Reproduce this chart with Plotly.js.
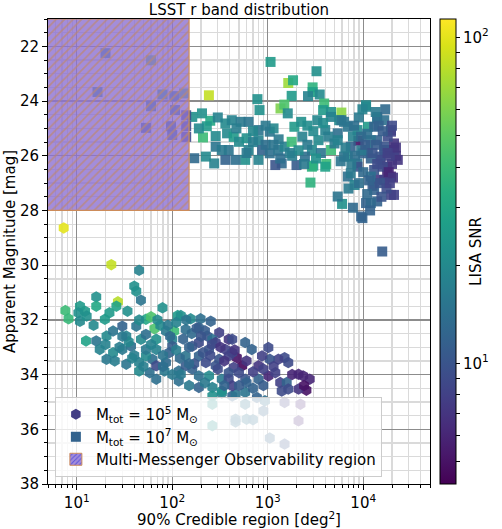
<!DOCTYPE html>
<html><head><meta charset="utf-8">
<script src="https://cdn.plot.ly/plotly-3.0.1.min.js"></script>
<style>html,body{margin:0;padding:0;background:#fff}</style>
</head><body><div id="chart" style="width:502px;height:529px"></div>
<script>
// M_tot = 1e7 (squares): credible region [deg^2], magnitude, LISA SNR
const sqX = [1070,3240,242,1640,1840,2950,2950,3500,2640,1780,780,820,1360,1490,3900,3800,4600,5900,5600,10700,14000,8900,19500,23000,19500,14000,13000,19500,10700,14000,6000,9800,2800,3000,4100,15800,
162,205,250,230,210,360,420,520,630,285,285,375,440,500,390,600,630,800,800,870,1050,1050,1290,1500,1780,1900,2240,1400,1200,800,580,460,360,275,225,170,330,2900,2450,2000,2900,4000,4600,3400,4000,4600,5900,5400,5000,1620,
10700,14000,19500,6300,11200,16600,22000,17800,13000,8700,6900,8100,12500,12000,21000,9500,6900,11200,14000,8700,15100,21000,12000,16600,5400,6900,7400,6300,5400,8700,7400,10000,12000,16600,15100,17800,21000,13000,16600,
9000,11000,13500,18000,20000,19000,16000,10000,12000,9500,7800,8200,15000,17500,11000,14500,20000,22000,7000,18500,
2300,2600,3000,3600,3200,1800,2100,4300,3800,1300,950,700,1150,
8000,9500,10500,12500,14000,16000,18000,20500,19000,11500,9000,7500,6500,5800,13500,9800,17000,15500,7800,11800,
190,300,470,700,950,1150,600,1700,2600,3300,2400,1350,
20,60,16.5,60,79,105,133,53,107,140,97,100,140,140];
const sqY = [22.57,22.91,23.79,23.34,23.24,23.50,23.67,23.76,23.82,23.81,23.93,24.33,24.27,24.13,24.09,24.33,24.40,24.42,24.70,24.21,24.64,25.45,25.12,26.15,26.76,26.88,27.25,27.43,27.73,27.67,27.76,28.28,26.98,26.36,26.30,29.50,
24.58,24.45,24.72,24.92,25.33,24.82,24.70,24.76,24.76,25.28,25.67,25.18,25.31,25.49,25.79,25.36,25.79,25.06,25.43,25.79,25.12,25.91,25.79,25.67,25.49,24.94,24.76,26.28,26.34,26.15,26.15,26.15,26.15,26.28,26.03,26.09,25.79,25.79,26.03,26.34,26.40,26.40,25.79,25.43,25.06,24.58,24.70,25.18,25.55,24.45,
24.15,24.58,25.06,24.76,24.94,25.79,26.00,26.70,26.52,26.28,26.76,27.07,27.10,27.73,27.43,28.22,26.03,25.79,25.43,25.06,26.03,25.79,26.76,26.88,27.49,24.94,25.67,26.03,25.43,26.40,26.64,25.91,25.43,25.67,26.15,26.40,25.55,24.94,24.70,
24.6,25.2,25.6,25.3,26.3,26.0,26.4,26.6,26.1,25.8,25.3,26.0,27.0,27.2,27.4,24.9,24.9,25.7,27.2,26.6,
25.3,25.6,25.1,25.9,26.1,26.0,25.8,25.3,24.8,25.4,25.6,25.5,25.0,
24.9,25.3,25.6,25.9,26.3,25.1,25.9,26.8,27.0,26.9,27.0,26.3,25.7,26.2,24.4,24.3,24.3,27.5,27.9,28.0,
25.0,24.6,25.0,25.1,24.9,25.6,25.9,25.9,24.9,24.7,26.3,26.1,
22.25,22.51,23.67,24.19,23.76,23.82,23.72,24.98,24.33,24.52,24.92,25.24,24.92,25.31];
const sqSNR = [25,22,85,70,30,35,28,20,18,25,22,22,60,45,40,25,22,65,20,18,15,5,8,7,6,7,12,8,12,12,22,12,35,28,40,11,
22,22,30,25,40,20,18,16,15,20,15,20,25,20,15,22,18,15,18,12,15,14,15,18,40,25,22,13,10,18,22,14,12,18,20,13,16,20,14,11,35,28,40,20,18,18,15,14,16,20,
20,14,8,15,25,12,7,6,10,15,14,18,11,13,8,12,20,18,12,20,10,8,14,8,15,15,12,15,18,10,16,12,15,10,9,6,7,12,14,
16,14,11,9,7,8,9,13,12,16,18,14,10,9,13,12,9,7,16,6,
18,16,20,15,22,17,20,17,21,16,14,17,19,
14,13,11,10,9,11,8,7,8,12,14,16,17,15,16,18,13,10,13,12,
20,18,17,19,16,15,16,17,21,19,16,14,
20,50,20,18,30,18,45,12,15,9,13,13,9,9];

// M_tot = 1e5 (hexagons)
const hexX = [7.3,23,45,40,42,47,27,16,16,7.6,8.2,10.8,12.2,10.4,10.8,12.7,12.5,19.7,22,26,34,53,60,65,79,114,123,156,198,253,
16,20.5,17.4,24,30,33,37,42,47,53,68,86,105,100,138,190,232,310,390,475,540,440,285,190,138,93,62,45,30,24,20.5,33,45,58,83,117,162,117,190,263,330,263,330,425,243,360,68,53,
1015,1500,1640,1290,1050,870,800,1015,1200,1350,1580,2100,2350,2750,2540,2100,1640,1500,2200,680,580,425,263,425,310,390,580,800,330,460,580,770,243,263,580,935,460,600,700,900,263,2100,1050,1500,460,
190,285,225,138,86,68,53,100,162,390,500,390,600,190,123,68,425,
150,210,120,170,250,300,350,80,110,60,40,35,28,75,95,130,220,160,
70,90,110,140,180,200,260,320,450,600,700,900,1150,1800,2400,1400,900,700,500,350,220,150,100,150,80,50,38,25,20,30,45,15];
const hexY = [28.64,29.98,30.19,30.77,30.95,31.28,31.34,31.16,31.50,31.66,31.96,31.50,31.68,31.74,32.05,31.86,32.77,31.98,31.74,31.50,31.68,31.98,31.89,32.32,31.56,31.84,31.84,31.96,31.96,32.05,
32.77,32.59,33.08,32.41,32.23,32.59,32.96,32.23,32.71,32.53,32.71,32.41,32.41,32.71,32.35,32.29,32.59,32.47,32.71,33.38,33.68,33.74,33.68,33.32,33.32,33.20,33.44,33.56,33.08,33.20,33.44,33.62,33.87,33.93,33.87,33.87,33.80,34.23,34.47,34.47,34.17,34.78,34.68,34.78,33.08,33.08,33.08,33.32,
33.01,33.38,33.56,33.44,33.44,33.32,33.68,34.05,33.93,34.29,34.29,33.99,34.05,34.17,34.57,34.53,34.53,35.02,35.08,33.08,32.83,32.71,32.71,33.20,33.44,33.93,34.17,34.17,34.60,34.72,34.65,34.84,34.05,35.08,35.08,34.96,35.63,35.63,35.65,35.33,35.87,35.69,36.32,36.54,35.73,
32.83,32.83,33.56,33.68,33.56,33.68,33.08,32.96,32.96,33.32,33.93,34.17,34.29,34.05,33.99,34.17,34.41,
33.0,33.2,33.4,33.6,33.3,33.8,33.5,33.3,33.1,32.9,33.3,32.8,33.0,32.2,32.6,32.7,32.4,32.5,
32.0,32.2,32.1,32.0,32.3,32.6,32.9,33.0,33.1,33.5,33.9,33.8,33.7,34.0,34.4,34.6,34.4,34.5,34.4,34.4,34.3,34.4,34.0,33.6,33.7,33.7,33.4,33.5,32.9,32.6,32.0,32.2];
const hexSNR = [100,85,18,22,22,15,80,22,30,40,38,25,25,22,20,22,28,25,25,28,22,30,45,45,22,25,22,20,14,12,
15,20,18,15,12,18,14,15,20,14,22,16,40,18,14,12,10,8,7,5,4.5,8,10,12,15,12,14,18,16,20,16,15,20,14,16,14,12,14,12,18,16,22,18,12,10,8,18,20,
9,9,9,8,10,8,7,6,8,8,12,6,6,6,5,7,9,8,6,12,12,9,14,9,10,10,10,12,22,15,15,12,20,22,15,14,14,15,14,12,22,6,12,10,14,
9,8,9,11,13,9,16,11,10,8,9,9,12,14,16,14,8,
12,10,13,10,9,9,7,15,17,18,17,19,17,20,13,12,11,13,
20,16,18,15,11,10,9,7,7,7,8,8,8,6,5,9,11,12,11,12,16,16,16,13,14,17,18,17,18,16,20,20];

// Multi-messenger observability region (deg^2, mag)
const regionX = [1, 150, 150, 1, 1];
const regionY = [21, 21, 28, 28, 21];

const xTickVals = [10, 100, 1000, 10000];
const xTickText = ['10<sup>1</sup>', '10<sup>2</sup>', '10<sup>3</sup>', '10<sup>4</sup>'];
const cbTickVals = [1, 2];
const cbTickText = ['10<sup>1</sup>', '10<sup>2</sup>'];

const xMinor = [];
[1, 10, 100, 1000, 10000].forEach(d => { for (let k = 2; k <= 9; k++) xMinor.push(k * d); });
const cbMinor = [];
[1, 10].forEach(d => { for (let k = 2; k <= 9; k++) cbMinor.push(Math.log10(k * d)); });

const FONT = 'DejaVu Sans, sans-serif';
const FS = 15;
const REGION_BG = 'rgba(140,112,210,0.8)';
const REGION_FG = 'rgba(190,135,110,0.7)';
const REGION_EDGE = 'rgb(205,140,90)';

const traces = [
  {x: hexX, y: hexY, type: 'scatter', mode: 'markers', showlegend: false, hoverinfo: 'skip',
   marker: {symbol: 'hexagon', size: 11.5, color: hexSNR.map(v => Math.log10(v)), coloraxis: 'coloraxis', opacity: 0.9, line: {width: 0}}},
  {x: sqX, y: sqY, type: 'scatter', mode: 'markers', showlegend: false, hoverinfo: 'skip',
   marker: {symbol: 'square', size: 10, color: sqSNR.map(v => Math.log10(v)), coloraxis: 'coloraxis', opacity: 0.9, line: {width: 0}}},
  {x: regionX, y: regionY, type: 'scatter', mode: 'lines', fill: 'toself', showlegend: false, hoverinfo: 'skip',
   line: {color: REGION_EDGE, width: 1.2},
   fillcolor: REGION_BG,
   fillpattern: {shape: '/', bgcolor: REGION_BG, fgcolor: REGION_FG, size: 6, solidity: 0.3}},
  {x: [null], y: [null], type: 'scatter', mode: 'markers', name: 'M<sub>tot</sub> = 10<sup>5</sup> M<sub>⊙</sub>', legendrank: 1,
   marker: {symbol: 'hexagon', size: 11, color: '#433e85'}},
  {x: [null], y: [null], type: 'scatter', mode: 'markers', name: 'M<sub>tot</sub> = 10<sup>7</sup> M<sub>⊙</sub>', legendrank: 2,
   marker: {symbol: 'square', size: 10, color: '#33638d'}},
  {x: [null], y: [null], type: 'bar', name: 'Multi-Messenger Observability region', legendrank: 3,
   marker: {color: REGION_BG, line: {color: REGION_EDGE, width: 1},
     pattern: {shape: '/', bgcolor: REGION_BG, fgcolor: 'rgba(60,60,220,0.7)', size: 4, solidity: 0.3}}}
];

const layout = {
  width: 502, height: 529,
  margin: {l: 48, r: 69, t: 19, b: 45},
  paper_bgcolor: '#fff', plot_bgcolor: '#fff',
  font: {family: FONT, size: FS, color: '#000'},
  title: {text: 'LSST r band distribution', font: {family: FONT, size: FS}, x: 0.5, xref: 'paper', y: 0.982, yref: 'container', yanchor: 'middle'},
  xaxis: {type: 'log', range: [Math.log10(5), Math.log10(50000)],
    tickmode: 'array', tickvals: xTickVals, ticktext: xTickText,
    ticks: 'outside', ticklen: 5, tickcolor: '#000', tickfont: {size: FS},
    showline: true, linecolor: '#000', linewidth: 1, mirror: true,
    showgrid: true, gridcolor: '#8c8c8c', gridwidth: 1.3, zeroline: false,
    minor: {tickmode: 'array', tickvals: xMinor, ticks: 'outside', ticklen: 3, tickcolor: '#000', showgrid: true, gridcolor: '#dadada', gridwidth: 1.3},
    title: {text: '90% Credible region [deg<sup>2</sup>]', font: {size: FS}, standoff: 0}},
  yaxis: {range: [38, 21], tickmode: 'linear', tick0: 22, dtick: 2,
    ticks: 'outside', ticklen: 5, tickcolor: '#000', tickfont: {size: FS},
    showline: true, linecolor: '#000', linewidth: 1, mirror: true,
    showgrid: true, gridcolor: '#8c8c8c', gridwidth: 1.3, zeroline: false,
    minor: {dtick: 0.5, ticks: 'outside', ticklen: 3, tickcolor: '#000', showgrid: true, gridcolor: '#dadada', gridwidth: 1.3},
    title: {text: 'Apparent Magnitude [mag]', font: {size: FS}, standoff: 0}},
  coloraxis: {colorscale: 'Viridis', cmin: 0.63, cmax: 2.056,
    colorbar: {x: 1.026, xanchor: 'left', xpad: 0, ypad: 0, y: 0.5, yanchor: 'middle', len: 1, lenmode: 'fraction',
      thickness: 16, outlinewidth: 1, outlinecolor: '#000',
      tickmode: 'array', tickvals: cbTickVals.concat(cbMinor), ticktext: cbTickText.concat(cbMinor.map(() => '')),
      ticks: 'outside', ticklen: 4, tickcolor: '#000', tickfont: {size: FS},
      title: {text: 'LISA SNR', side: 'right', font: {size: FS}}}},
  legend: {x: 0.018, y: 0.015, xanchor: 'left', yanchor: 'bottom', bgcolor: 'rgba(255,255,255,0.8)',
    bordercolor: '#cccccc', borderwidth: 1, font: {size: FS}, traceorder: 'normal'},
  showlegend: true
};

Plotly.newPlot('chart', traces, layout, {displayModeBar: false, staticPlot: true});
</script></body></html>
